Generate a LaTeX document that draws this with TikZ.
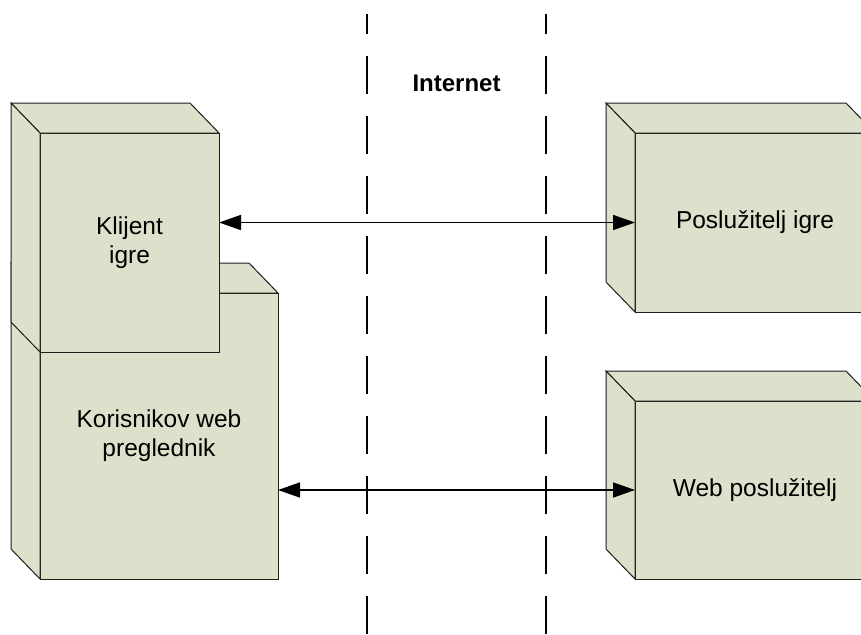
\documentclass[tikz,border=0pt]{standalone}
\usepackage{fontspec}
\setmainfont{Liberation Sans}
\usetikzlibrary{arrows.meta}

\definecolor{nodefill}{RGB}{221,224,202}
\definecolor{edgecol}{RGB}{30,30,30}

% draw the top and left faces of a 3D deployment node around its front face
\newcommand\nodesides[1]{%
  \filldraw[boxface] (#1.north west) -- ([shift={(-29,-30)}]#1.north west)
    -- ([shift={(-29,-30)}]#1.north east) -- (#1.north east) -- cycle;
  \filldraw[boxface] (#1.north west) -- ([shift={(-29,-30)}]#1.north west)
    -- ([shift={(-29,-30)}]#1.south west) -- (#1.south west) -- cycle;
}

\begin{document}
\begin{tikzpicture}[x=1pt, y=-1pt,
  boxface/.style={fill=nodefill, draw=edgecol, line width=1pt, line join=miter},
  frontface/.style={rectangle, fill=nodefill, draw=edgecol, line width=1pt,
    inner sep=0pt, outer sep=0pt, align=center,
    font=\fontsize{24.5}{29}\selectfont},
  divider/.style={draw=black, line width=2pt, dash pattern=on 38pt off 22pt, dash phase=18pt},
  link/.style={draw=black, line width=1.6pt, {Triangle[length=22pt,width=15pt]}-{Triangle[length=22pt,width=15pt]}},
  title/.style={font=\bfseries\fontsize{24}{28}\selectfont}
]
\useasboundingbox (0,0) rectangle (861,634);
\clip (0,0) rectangle (861,634);
\fill[white] (0,0) rectangle (861,634);

% network boundary
\coordinate (d1top) at (367,14);
\coordinate (d1bot) at (367,640);
\coordinate (d2top) at (546,14);
\coordinate (d2bot) at (546,640);
\draw[divider] (d1top) -- (d1bot);
\draw[divider] (d2top) -- (d2bot);
\node[title] (inet) at (456.5,83) {Internet};

% client side: browser with the game client in front of it
\node[frontface, minimum width=238pt, minimum height=286pt] (browser) at (159,436)
  {Korisnikov web\\preglednik};
\nodesides{browser}
\node[frontface, minimum width=179pt, minimum height=219pt] (client) at (129.5,242.5)
  {Klijent\\igre};
\nodesides{client}

% server side
\node[frontface, minimum width=240pt, minimum height=179pt] (gameserver) at (755,222.5)
  {Poslužitelj igre};
\nodesides{gameserver}
\node[frontface, minimum width=240pt, minimum height=178pt] (webserver) at (755,490)
  {Web poslužitelj};
\nodesides{webserver}

% connections across the internet
\draw[link] (client.east |- gameserver.west) -- (gameserver.west);
\draw[link] (browser.east |- webserver.west) -- (webserver.west);
\end{tikzpicture}
\end{document}
